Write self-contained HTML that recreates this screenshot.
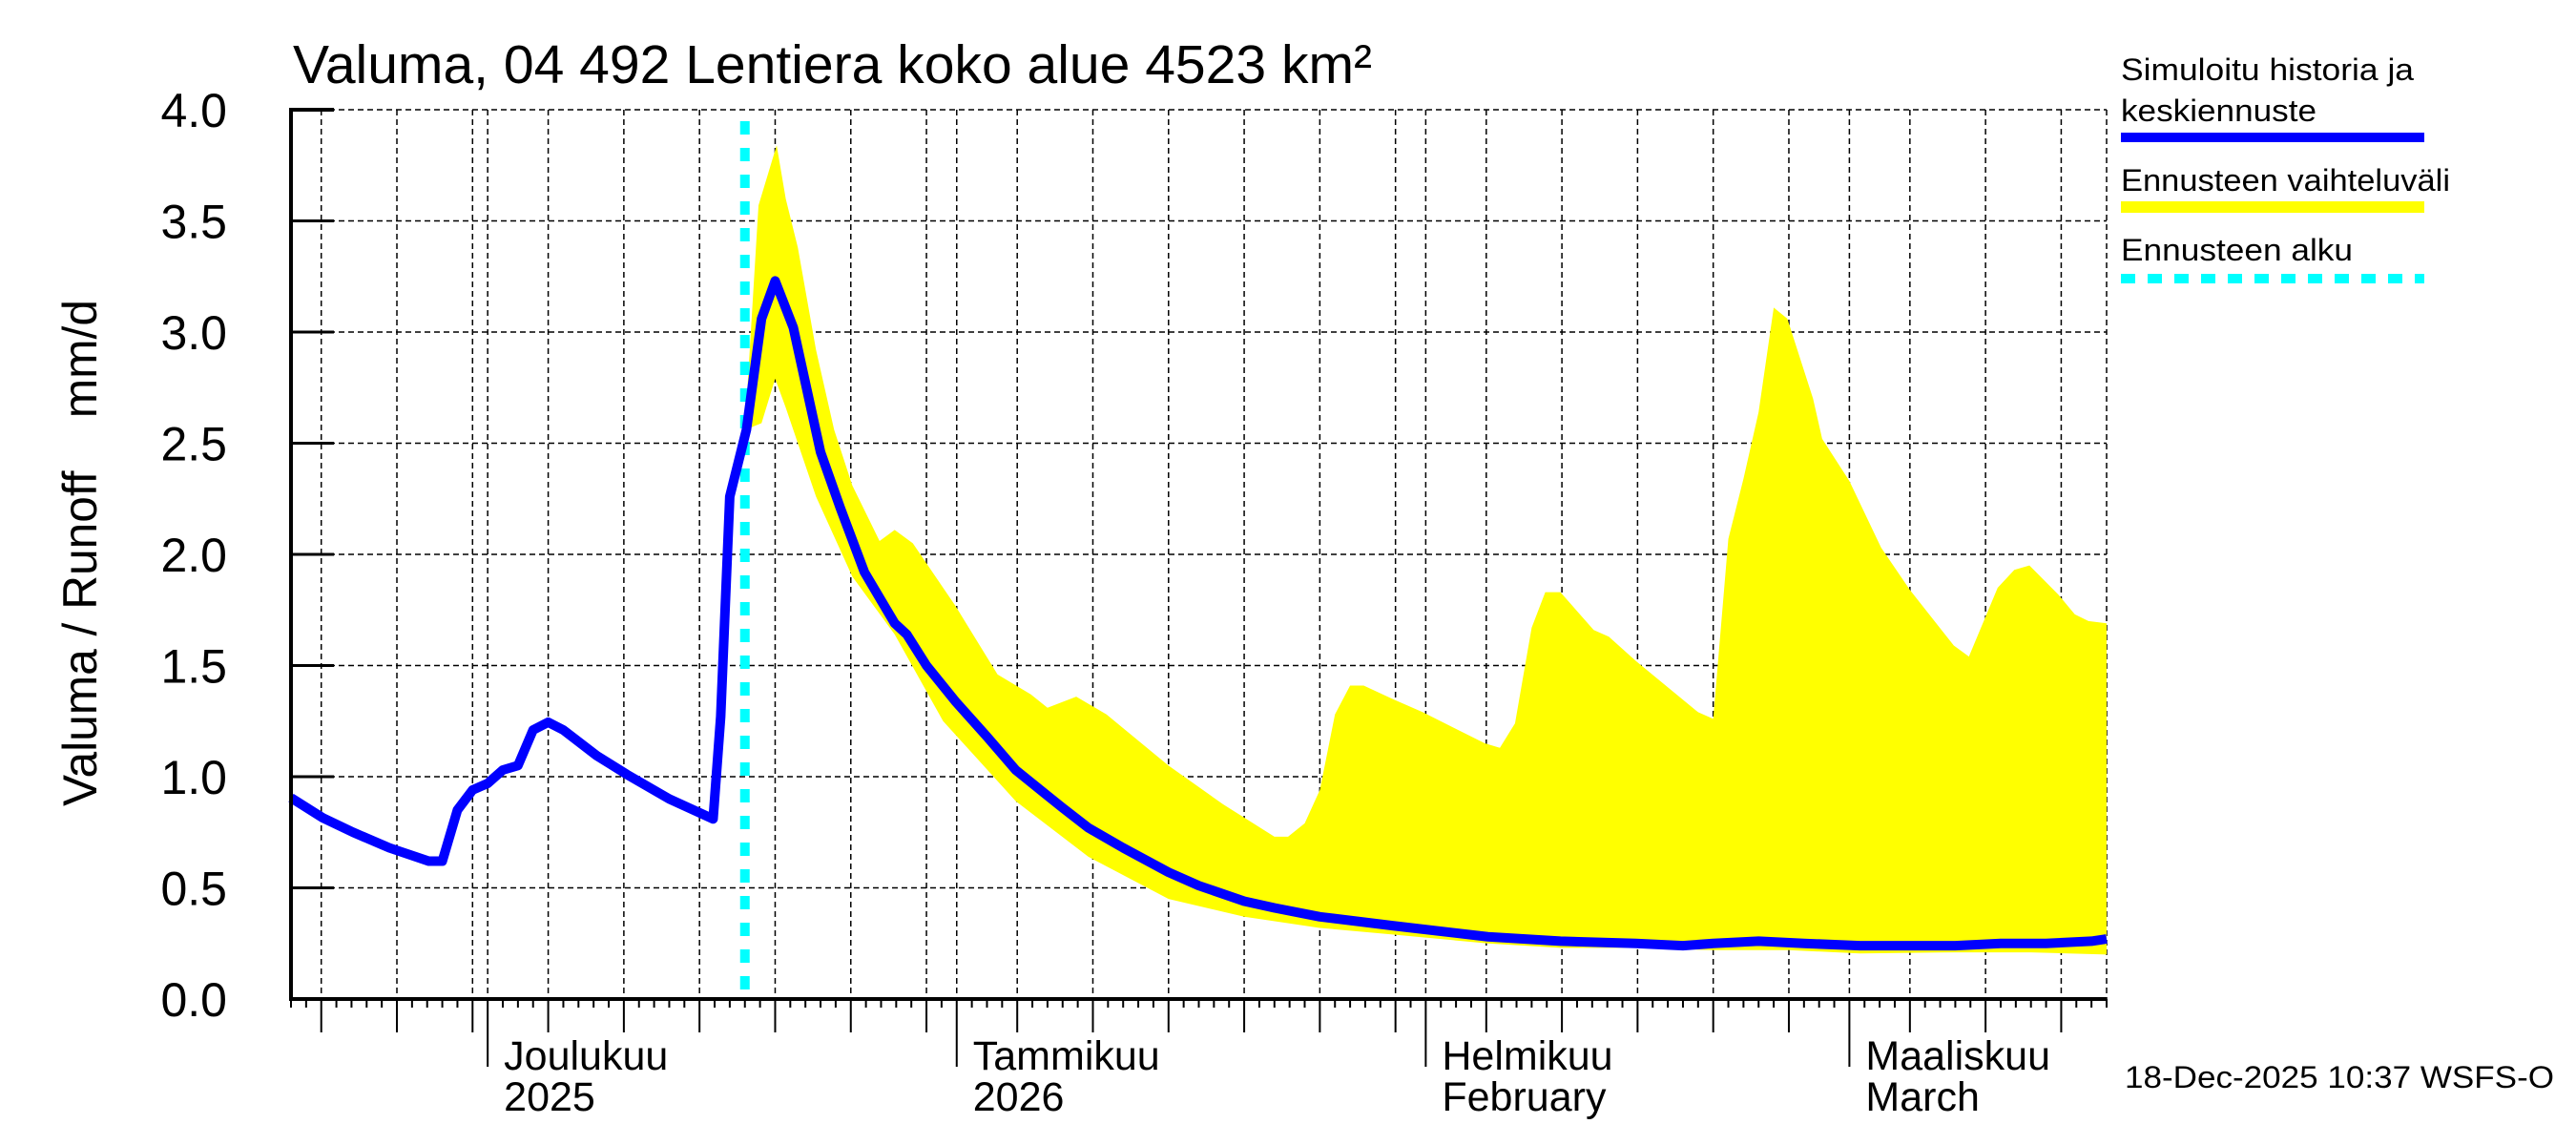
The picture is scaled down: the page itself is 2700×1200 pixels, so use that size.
<!DOCTYPE html>
<html><head><meta charset="utf-8"><title>Valuma Lentiera</title>
<style>html,body{margin:0;padding:0;background:#fff;}svg{display:block;font-family:"Liberation Sans",Arial,sans-serif;}</style>
</head><body>
<svg id="chart" width="2700" height="1200" viewBox="0 0 2700 1200" xmlns="http://www.w3.org/2000/svg">
<g id="grid"></g>
<g id="band"></g>
<g id="series"></g>
<g id="axes"></g>
<text x="307" y="87" font-size="57" textLength="1131" lengthAdjust="spacingAndGlyphs">Valuma, 04 492 Lentiera koko alue 4523 km²</text>
<text transform="translate(101,845) rotate(-90)" font-size="50" textLength="531" lengthAdjust="spacingAndGlyphs" xml:space="preserve">Valuma / Runoff    mm/d</text>
<g>
<text x="2223" y="84" font-size="32" textLength="307" lengthAdjust="spacingAndGlyphs">Simuloitu historia ja</text>
<text x="2223" y="127" font-size="32" textLength="205" lengthAdjust="spacingAndGlyphs">keskiennuste</text>
<rect x="2223" y="139" width="318" height="10" fill="#0000ff"/>
<text x="2223" y="200" font-size="32" textLength="345" lengthAdjust="spacingAndGlyphs">Ennusteen vaihteluväli</text>
<rect x="2223" y="211" width="318" height="12" fill="#ffff00"/>
<text x="2223" y="273" font-size="32" textLength="243" lengthAdjust="spacingAndGlyphs">Ennusteen alku</text>
<line x1="2223" y1="292" x2="2541" y2="292" stroke="#00ffff" stroke-width="10" stroke-dasharray="15 13"/>
</g>
<text x="2227" y="1140" font-size="32" textLength="450" lengthAdjust="spacingAndGlyphs">18-Dec-2025 10:37 WSFS-O</text>
</svg>
<script>
// days since 18-Nov-2025
const histDays = [0,2.1,4.1,6.5,9.1,10,11,12,13,14,15,16,17,18,20.2,22.2,25,27.9,28.4,29,30.1,31.1,32,33.2,35,36.3,37.9,39.9,40.7,42,43.9,46,47.9,49.9,51,52.7,55,58,60,63,65,68,72.8,79.1,83.9,88.9,92,94,97,100,103.7,107,110,113,116,119,120];
const histVals = [0.905,0.815,0.75,0.68,0.62,0.62,0.85,0.94,0.97,1.03,1.05,1.21,1.245,1.21,1.095,1.01,0.90,0.81,1.27,2.26,2.56,3.06,3.23,3.02,2.46,2.21,1.92,1.69,1.64,1.50,1.34,1.18,1.03,0.92,0.86,0.77,0.68,0.57,0.51,0.44,0.41,0.37,0.33,0.28,0.26,0.25,0.24,0.25,0.26,0.25,0.24,0.24,0.24,0.25,0.25,0.26,0.27];
const upperDays = [30,30.9,32.1,32.7,33.5,34.7,35.9,37.1,38.9,39.9,41.1,43.9,46.7,48.9,50,51.9,53.9,58,61.6,65,65.9,67,68,69,70,70.9,72.8,74.8,78.9,79.9,80.9,82,82.9,83.9,86.1,87.1,88.9,93,94,95,96,97,98,98.9,100.6,101.2,103,105.1,107,109.9,110.9,112.8,113.9,114.9,116.8,117.9,118.8,120];
const upperVals = [2.56,3.57,3.84,3.6,3.38,2.92,2.56,2.31,2.06,2.11,2.05,1.77,1.46,1.37,1.31,1.36,1.28,1.05,0.876,0.73,0.73,0.79,0.94,1.28,1.41,1.41,1.35,1.29,1.15,1.13,1.24,1.67,1.83,1.83,1.66,1.63,1.52,1.29,1.26,2.07,2.34,2.64,3.11,3.06,2.70,2.52,2.33,2.03,1.84,1.59,1.54,1.85,1.93,1.95,1.82,1.73,1.70,1.69];
const lowerDays = [30,31.1,32,32.7,34.7,37.1,39.9,43.1,47.9,52.7,58,63,68,72.8,79.1,83.9,88.9,94,99,103.7,110,115,120];
const lowerVals = [2.56,2.59,2.79,2.66,2.26,1.90,1.64,1.25,0.89,0.64,0.45,0.37,0.32,0.29,0.25,0.23,0.23,0.22,0.22,0.205,0.21,0.21,0.20];
const forecastStartDay = 30;
const yTicks = ["0.0","0.5","1.0","1.5","2.0","2.5","3.0","3.5","4.0"];
const monthDays = [13,44,75,103];
const monthLabels = ["Joulukuu","Tammikuu","Helmikuu","Maaliskuu"];
const monthLabels2 = ["2025","2026","February","March"];
const gridDays = [2,7,12,17,22,27,32,37,42,48,53,58,63,68,73,79,84,89,94,99,107,112,117];

const NS="http://www.w3.org/2000/svg";
const X0=305,X1=2208,Y0=1047,Y1=115,DMAX=120,VMAX=4;
const xs=d=>X0+d*(X1-X0)/DMAX;
const ys=v=>Y0-v*(Y0-Y1)/VMAX;
function mk(tag,attrs,parent){const e=document.createElementNS(NS,tag);for(const k in attrs)e.setAttribute(k,attrs[k]);parent.appendChild(e);return e;}
const grid=document.getElementById('grid'),band=document.getElementById('band'),series=document.getElementById('series'),axes=document.getElementById('axes');

yTicks.forEach((t,i)=>{
  const v=parseFloat(t),y=ys(v);
  if(i>0){const g=mk('line',{x1:X0,y1:y,x2:X1,y2:y,stroke:'#000','stroke-width':1.5,'stroke-dasharray':'6 4'},grid);
  
  }
  const tk=mk('line',{x1:X0,y1:y,x2:X0+45,y2:y,stroke:'#000','stroke-width':3},axes);
  
  
  const lb=mk('text',{x:238,y:y+18,'font-size':50,'text-anchor':'end'},axes);
  lb.textContent=t;
  
  
});
gridDays.concat(monthDays).forEach(d=>{
  const x=xs(d);
  const g=mk('line',{x1:x,y1:Y1,x2:x,y2:Y0,stroke:'#000','stroke-width':1.5,'stroke-dasharray':'6 4'},grid);
  
  
});
{const g=mk('line',{x1:X1,y1:Y1,x2:X1,y2:Y0,stroke:'#000','stroke-width':1.5,'stroke-dasharray':'6 4'},grid);

}
for(let d=0;d<=DMAX;d++){
  const x=xs(d);let len=9;
  if(gridDays.includes(d))len=35;
  if(monthDays.includes(d))len=71;
  const t=mk('line',{x1:x,y1:Y0,x2:x,y2:Y0+len,stroke:'#000','stroke-width':2},axes);
  
  
}
monthDays.forEach((d,i)=>{
  const x=xs(d)+17;
  const a=mk('text',{x:x,y:1121,'font-size':43},axes);a.textContent=monthLabels[i];
  
  
  const b=mk('text',{x:x,y:1164,'font-size':43},axes);b.textContent=monthLabels2[i];
  
  
});
let pts=upperDays.map((d,i)=>xs(d)+','+ys(upperVals[i]));
for(let i=lowerDays.length-1;i>=0;i--)pts.push(xs(lowerDays[i])+','+ys(lowerVals[i]));
const poly=mk('polygon',{points:pts.join(' '),fill:'#ffff00',stroke:'none'},band);


const fs=mk('line',{x1:xs(forecastStartDay),y1:127,x2:xs(forecastStartDay),y2:Y0,stroke:'#00ffff','stroke-width':10,'stroke-dasharray':'14 14'},series);


const hl=mk('polyline',{points:histDays.map((d,i)=>xs(d)+','+ys(histVals[i])).join(' '),fill:'none',stroke:'#0000ff','stroke-width':10,'stroke-linejoin':'round'},series);


const ax=mk('polyline',{points:`${X0+45},${Y1} ${X0},${Y1} ${X0},${Y0} ${X1},${Y0}`,fill:'none',stroke:'#000','stroke-width':4},axes);


</script>
</body></html>
